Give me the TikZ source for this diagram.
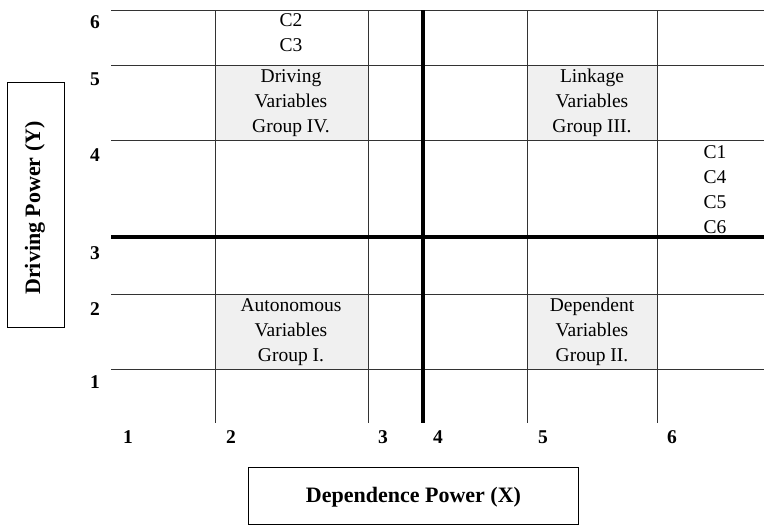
\documentclass[tikz,border=0pt]{standalone}
\usepackage{fontspec}
\setmainfont{Liberation Serif}
\begin{document}
\begin{tikzpicture}[x=1pt,y=-1pt,
  grid/.style={draw=black!80,line width=0.9pt},
  axis/.style={draw=black,line width=3.6pt},
  cellfill/.style={fill=black!6},
  celltext/.style={align=center,font=\fontsize{19.5}{25}\selectfont,inner sep=0pt},
  tick/.style={font=\fontsize{19.5}{22}\selectfont\bfseries,inner sep=0pt},
  titlefont/.style={font=\fontsize{22}{25}\selectfont\bfseries,inner sep=0pt},
  titlebox/.style={draw=black,line width=0.9pt,inner sep=0pt}]
\useasboundingbox (0,0) rectangle (764,525);
% shaded quadrant cells
\fill[cellfill] (215,65) rectangle (368,140);
\fill[cellfill] (527,65) rectangle (657,140);
\fill[cellfill] (215,294) rectangle (368,369);
\fill[cellfill] (527,294) rectangle (657,369);
% horizontal grid lines
\foreach \yy in {10,65,140,294,369} \draw[grid] (111,\yy) -- (764,\yy);
% vertical grid lines
\foreach \xx in {215,368,527,657} \draw[grid] (\xx,10) -- (\xx,423);
% quadrant dividers
\draw[axis] (111,237) -- (764,237);
\draw[axis] (423,10) -- (423,423);
% y tick labels
\node[tick] (y6) at (95,22) {6};
\node[tick] (y5) at (95,79) {5};
\node[tick] (y4) at (95,155) {4};
\node[tick] (y3) at (95,253) {3};
\node[tick] (y2) at (95,309) {2};
\node[tick] (y1) at (95,382) {1};
% x tick labels
\node[tick] (x1) at (128,437) {1};
\node[tick] (x2) at (231,437) {2};
\node[tick] (x3) at (383,437) {3};
\node[tick] (x4) at (438,437) {4};
\node[tick] (x5) at (543,437) {5};
\node[tick] (x6) at (672,437) {6};
% cell texts
\node[celltext] (c23) at (291,33) {C2\\C3};
\node[celltext] (c1456) at (715,190) {C1\\C4\\C5\\C6};
\node[celltext] (g4) at (291,103) {Driving\\Variables\\Group IV.};
\node[celltext] (g3) at (592,103) {Linkage\\Variables\\Group III.};
\node[celltext] (g1) at (291,332) {Autonomous\\Variables\\Group I.};
\node[celltext] (g2) at (592,332) {Dependent\\Variables\\Group II.};
% axis titles
\node[titlebox,minimum width=57pt,minimum height=245pt] (ybox) at (35.5,204.5) {};
\node[titlefont,rotate=90] (ytitle) at (35,208) {Driving Power (Y)};
\node[titlebox,minimum width=330pt,minimum height=57pt] (xbox) at (413,495.5) {};
\node[titlefont] (xtitle) at (413.5,497) {Dependence Power (X)};
\end{tikzpicture}
\end{document}
